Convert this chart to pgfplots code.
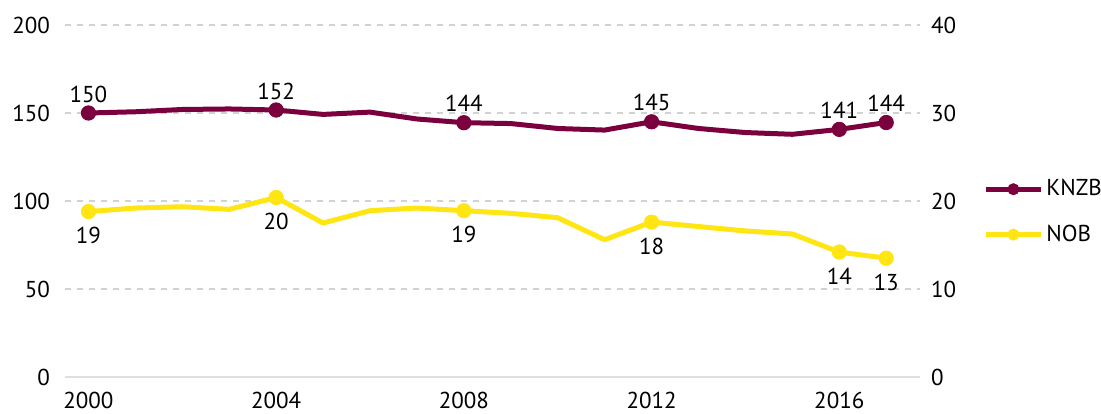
\documentclass[border=0pt]{standalone}
\usepackage{fontspec}
\setmainfont{PT Sans}
\usepackage{pgfplots}
\pgfplotsset{compat=1.18}
\definecolor{knzb}{RGB}{123,0,62}
\definecolor{nob}{RGB}{255,229,18}
\begin{document}
\begin{tikzpicture}[font=\fontsize{11.5}{13}\selectfont]
\pgfplotsset{
 base/.style={scale only axis, width=427.5pt, height=176pt,
   xmin=1999.5, xmax=2017.72, ymin=0,
   axis line style={draw=none}, tick style={draw=none},
   /pgf/number format/assume math mode=true,
   /pgf/number format/1000 sep={}, clip=false},
 lab/.style={only marks, mark=*, mark size=3.6pt, nodes near coords,
   point meta=explicit symbolic},
}
\begin{axis}[base, ymax=200, ytick={50,100,150,200},
  extra y ticks={0}, extra y tick style={grid style={solid, gray!25, line width=1pt}},
  xtick={2000,2004,2008,2012,2016}, ymajorgrids,
  grid style={dashed, gray!35, line width=0.6pt},
  yticklabel style={xshift=-4pt},
  xticklabel style={yshift=-4pt}]
\addplot[knzb, line width=2.5pt, line join=round] table {
x y
2000 150
2001 150.7
2002 152
2003 152.3
2004 151.7
2005 149.2
2006 150.5
2007 146.6
2008 144.5
2009 144
2010 141.2
2011 140.3
2012 145
2013 141.2
2014 138.9
2015 137.9
2016 140.7
2017 144.6
};
\addplot[knzb, lab, nodes near coords style={black, anchor=center, yshift=9.5pt}] table[meta=lab] {
x y lab
2000 150 150
2004 151.7 152
2008 144.5 144
2012 145 145
2016 140.7 141
2017 144.6 144
};
\end{axis}
\begin{axis}[base, ymax=40, ytick={0,10,20,30,40},
  axis y line*=right, axis x line=none,
  yticklabel style={xshift=2pt},
  legend style={draw=none, fill=none, at={(1.0737,0.469)}, anchor=west,
    inner sep=0pt, row sep=9pt, nodes={inner xsep=1.5pt}, font=\fontsize{11.5}{13}\selectfont},
  legend cell align=left,
  legend image code/.code={\draw[mark repeat=2, mark phase=2, #1, mark size=2.8pt, mark options={line width=0.4pt}] plot coordinates {(0pt,0pt) (13.75pt,0pt) (27.5pt,0pt)};}]
\addlegendimage{knzb, line width=2.5pt, mark=*}
\addlegendentry{KNZB}
\addlegendimage{nob, line width=2.5pt, mark=*}
\addlegendentry{NOB}
\addplot[nob, line width=2.5pt, line join=round, forget plot] table {
x y
2000 18.8
2001 19.2
2002 19.35
2003 19.05
2004 20.4
2005 17.5
2006 18.9
2007 19.2
2008 18.9
2009 18.6
2010 18.1
2011 15.6
2012 17.6
2013 17.1
2014 16.6
2015 16.25
2016 14.2
2017 13.5
};
\addplot[nob, lab, forget plot, nodes near coords style={black, anchor=center, yshift=-12pt}] table[meta=lab] {
x y lab
2000 18.8 19
2004 20.4 20
2008 18.9 19
2012 17.6 18
2016 14.2 14
2017 13.5 13
};
\end{axis}
\pgfresetboundingbox
\path[use as bounding box] (-32.5pt,-18pt) rectangle (518pt,188.5pt);
\end{tikzpicture}
\end{document}
